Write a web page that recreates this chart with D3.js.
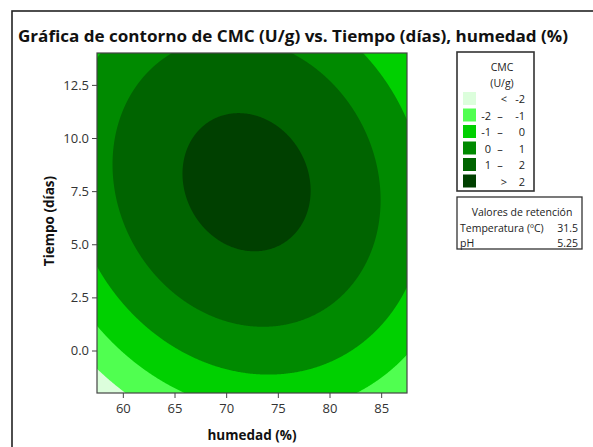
<!DOCTYPE html>
<html lang="es">
<head>
<meta charset="utf-8">
<script src="https://cdn.jsdelivr.net/npm/d3@7"></script>
<style>
  html, body { margin: 0; padding: 0; background: #fff; }
  svg { display: block; font-family: "Open Sans", "Noto Sans", sans-serif; }
</style>
</head>
<body>
<svg id="chart" width="593" height="447"></svg>
<script>
// Fitted response surface for CMC (U/g), coded units:
// u = (humedad - 72.5) / 15, v = (tiempo - 6) / 8
// terms: b0, u, v, u², v², u·v
const cmcTerms = ["b0", "u", "v", "u2", "v2", "uv"];
const cmcCoefficients = [2.193, -0.018, 0.858, -1.76, -1.82, -0.44];
const humedadCentre = 72.5, humedadHalfRange = 15;
const tiempoCentre = 6, tiempoHalfRange = 8;

// Axis domains and ticks
const humedadDomain = [57.5, 87.5];
const tiempoDomain = [-2, 14];
const humedadTicks = [60, 65, 70, 75, 80, 85];
const tiempoTicks = [0, 2.5, 5, 7.5, 10, 12.5];

// Contour levels and legend
const cmcLevels = [-2, -1, 0, 1, 2];
const bandColors = ["#dcfedc", "#50ff50", "#00d000", "#008a00", "#006400", "#004000"];

// Hold values
const holdLabels = ["Temperatura (ºC)", "pH"];
const holdValues = ["31.5", "5.25"];

const svg = d3.select("#chart");

// Outer frame
svg.append("rect")
  .attr("x", 12).attr("y", 11).attr("width", 620).attr("height", 470)
  .attr("fill", "none").attr("stroke", "#222").attr("stroke-width", 1.6);

// Title
svg.append("text")
  .attr("x", 18).attr("y", 42)
  .attr("font-size", 16).attr("font-weight", 700).attr("fill", "#111")
  .attr("textLength", 550).attr("lengthAdjust", "spacingAndGlyphs")
  .text("Gráfica de contorno de CMC (U/g) vs. Tiempo (días), humedad (%)");

const x = d3.scaleLinear().domain(humedadDomain).range([97, 407]);
const y = d3.scaleLinear().domain(tiempoDomain).range([393, 53]);

function cmc(h, t) {
  const u = (h - humedadCentre) / humedadHalfRange;
  const v = (t - tiempoCentre) / tiempoHalfRange;
  const b = cmcCoefficients;
  return b[0] + b[1] * u + b[2] * v + b[3] * u * u + b[4] * v * v + b[5] * u * v;
}

// Sample the surface on a pixel grid over the plot area
const [px0, px1] = x.range();
const [py1, py0] = y.range();
const gw = Math.round(px1 - px0), gh = Math.round(py1 - py0);
const grid = new Array(gw * gh);
for (let j = 0; j < gh; j++) {
  const t = y.invert(py0 + (j + 0.5) * (py1 - py0) / gh);
  for (let i = 0; i < gw; i++) {
    const h = x.invert(px0 + (i + 0.5) * (px1 - px0) / gw);
    grid[j * gw + i] = cmc(h, t);
  }
}

const contours = d3.contours().size([gw, gh]).thresholds(cmcLevels)(grid);
const toPlot = d3.geoTransform({
  point(gx, gy) {
    this.stream.point(px0 + gx * (px1 - px0) / gw, py0 + gy * (py1 - py0) / gh);
  }
});
const path = d3.geoPath(toPlot);

svg.append("clipPath").attr("id", "plotClip")
  .append("rect").attr("x", px0).attr("y", py0)
  .attr("width", px1 - px0).attr("height", py1 - py0);

const plot = svg.append("g").attr("clip-path", "url(#plotClip)");
plot.append("rect")
  .attr("x", px0).attr("y", py0).attr("width", px1 - px0).attr("height", py1 - py0)
  .attr("fill", bandColors[0]);
plot.selectAll("path.band")
  .data(contours)
  .join("path")
  .attr("class", "band")
  .attr("d", path)
  .attr("fill", (d, i) => bandColors[i + 1]);

// Plot border
svg.append("rect")
  .attr("x", px0).attr("y", py0).attr("width", px1 - px0).attr("height", py1 - py0)
  .attr("fill", "none").attr("stroke", "#444").attr("stroke-width", 1.2);

// Axes
const xAxis = svg.append("g").attr("transform", `translate(0,${py1})`)
  .call(d3.axisBottom(x).tickValues(humedadTicks).tickSize(5).tickPadding(6).tickFormat(d3.format("d")));
const yAxis = svg.append("g").attr("transform", `translate(${px0},0)`)
  .call(d3.axisLeft(y).tickValues(tiempoTicks).tickSize(5).tickPadding(3).tickFormat(d3.format(".1f")));
[xAxis, yAxis].forEach(a => {
  a.select(".domain").remove();
  a.selectAll(".tick line").attr("stroke", "#444");
  a.selectAll(".tick text").attr("fill", "#333").attr("font-size", 13)
    .attr("font-family", "'Open Sans', sans-serif");
});

// Axis titles
svg.append("text")
  .attr("x", 252).attr("y", 440).attr("text-anchor", "middle")
  .attr("font-size", 13.5).attr("font-weight", 700).attr("fill", "#111")
  .text("humedad (%)");
svg.append("text")
  .attr("transform", "translate(54,221) rotate(-90)").attr("text-anchor", "middle")
  .attr("font-size", 13.5).attr("font-weight", 700).attr("fill", "#111")
  .text("Tiempo (días)");

// Legend
const legend = svg.append("g");
legend.append("rect")
  .attr("x", 457).attr("y", 52).attr("width", 77).attr("height", 139)
  .attr("fill", "#fff").attr("stroke", "#333").attr("stroke-width", 1.6);
legend.append("text").attr("x", 502).attr("y", 71).attr("text-anchor", "middle")
  .attr("font-size", 10.5).attr("fill", "#222").text("CMC");
legend.append("text").attr("x", 502).attr("y", 86.5).attr("text-anchor", "middle")
  .attr("font-size", 10.5).attr("fill", "#222").text("(U/g)");

const legendRows = bandColors.map((c, i) => {
  if (i === 0) return { color: c, left: "<", right: String(cmcLevels[0]), op: true };
  if (i === bandColors.length - 1) return { color: c, left: ">", right: String(cmcLevels[i - 1]), op: true };
  return { color: c, left: String(cmcLevels[i - 1]), right: String(cmcLevels[i]), op: false };
});
const row = legend.selectAll("g.row").data(legendRows).join("g")
  .attr("class", "row")
  .attr("transform", (d, i) => `translate(0,${92 + i * 16.5})`);
row.append("rect").attr("x", 463).attr("y", 0).attr("width", 13).attr("height", 13)
  .attr("fill", d => d.color);
row.append("text").attr("x", d => d.op ? 504 : 491).attr("y", 11)
  .attr("text-anchor", d => d.op ? "middle" : "end")
  .attr("font-size", 11).attr("fill", "#222").text(d => d.left);
row.filter(d => !d.op).append("text").attr("x", 500).attr("y", 11)
  .attr("text-anchor", "middle").attr("font-size", 11).attr("fill", "#222").text("–");
row.append("text").attr("x", 525).attr("y", 11).attr("text-anchor", "end")
  .attr("font-size", 11).attr("fill", "#222").text(d => d.right);

// Hold values box
const hold = svg.append("g");
hold.append("rect")
  .attr("x", 457).attr("y", 197).attr("width", 125).attr("height", 52)
  .attr("fill", "#fff").attr("stroke", "#333").attr("stroke-width", 1.3);
hold.append("text").attr("x", 522).attr("y", 216).attr("text-anchor", "middle")
  .attr("font-size", 10.5).attr("fill", "#222").text("Valores de retención");
holdLabels.forEach((lab, i) => {
  hold.append("text").attr("x", 460).attr("y", 232 + i * 15)
    .attr("font-size", 10.5).attr("fill", "#222").text(lab);
  hold.append("text").attr("x", 578).attr("y", 232 + i * 15).attr("text-anchor", "end")
    .attr("font-size", 10.5).attr("fill", "#222").text(holdValues[i]);
});
</script>
</body>
</html>
